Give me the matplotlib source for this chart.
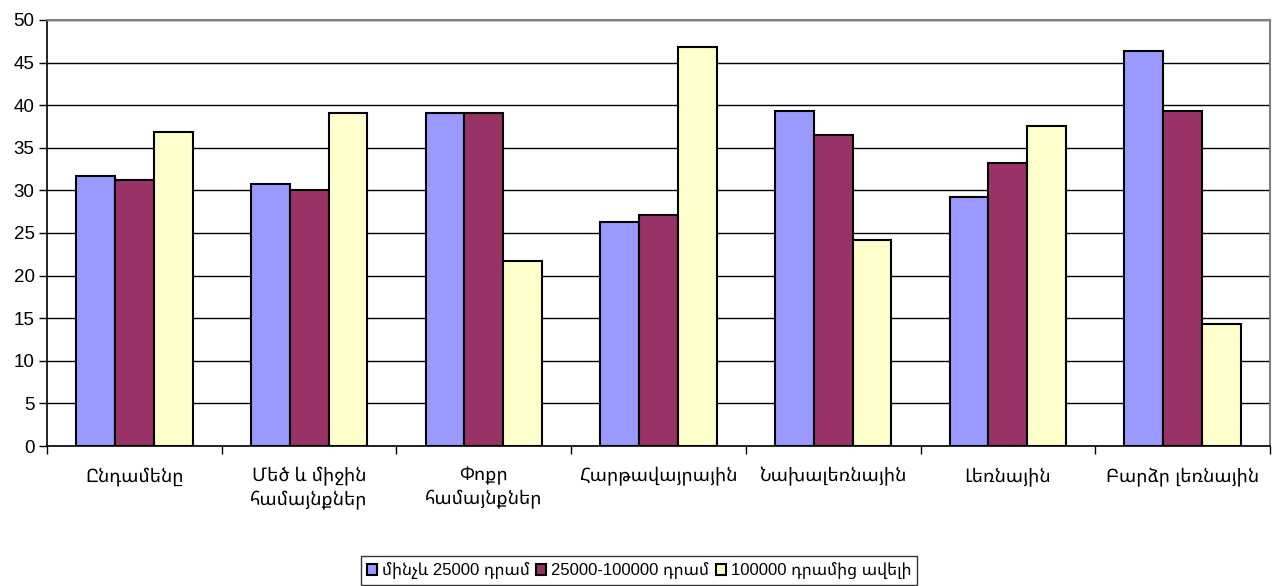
import matplotlib
matplotlib.use("Agg")
import matplotlib.pyplot as plt
import numpy as np

categories = ["Ընդամենը", "Մեծ և միջին\nհամայնքներ", "Փոքր\nհամայնքներ",
              "Հարթավայրային", "Նախալեռնային", "Լեռնային", "Բարձր լեռնային"]
series_names = ["մինչև 25000 դրամ", "25000-100000 դրամ", "100000 դրամից ավելի"]
s1 = [31.7, 30.8, 39.1, 26.3, 39.35, 29.2, 46.4]
s2 = [31.2, 30.1, 39.1, 27.1, 36.5, 33.2, 39.35]
s3 = [36.85, 39.1, 21.7, 46.8, 24.2, 37.55, 14.3]
colors = ["#9999FF", "#993366", "#FFFFCC"]

plt.rcParams['font.family'] = ['Liberation Sans', 'Noto Sans Armenian', 'DejaVu Sans']

fig = plt.figure(figsize=(12.78, 5.86), dpi=100)
ax = fig.add_axes([0.0368, 0.2389, 0.9569, 0.727])

x = np.arange(len(categories))
w = 0.667 / 3
for i, (vals, c, name) in enumerate(zip([s1, s2, s3], colors, series_names)):
    ax.bar(x + (i - 1) * w, vals, width=w, color=c, edgecolor="black",
           linewidth=1.5, label=name, zorder=3)

ax.set_xlim(-0.5, len(categories) - 0.5)
ax.set_ylim(0, 50)
ax.set_yticks(np.arange(0, 51, 5))
ax.yaxis.grid(True, color="black", linewidth=1.0, zorder=0)
ax.set_axisbelow(True)

ax.set_xticks(np.arange(-0.5, len(categories)), labels=[""] * (len(categories) + 1))
ax.set_xticks(x, labels=categories, minor=True)
ax.tick_params(axis="x", which="major", length=6, width=1, color="black", direction="out")
ax.tick_params(axis="x", which="minor", length=0, pad=15, labelsize=13.5)
ax.tick_params(axis="y", length=6, width=1, direction="out", labelsize=13.5, pad=3)
for lab in ax.get_xticklabels(minor=True):
    lab.set_horizontalalignment("center")
    lab.set_verticalalignment("top")
    lab.set_linespacing(1.35)

for s in ["top", "right"]:
    ax.spines[s].set_color("#808080")
    ax.spines[s].set_linewidth(1.5)
for s in ["left", "bottom"]:
    ax.spines[s].set_color("black")
    ax.spines[s].set_linewidth(1.2)

leg = fig.legend(loc="center", bbox_to_anchor=(0.5, 0.026), ncol=3, fontsize=12,
                 frameon=True, fancybox=False, edgecolor="black", handlelength=0.6,
                 handleheight=0.6, handletextpad=0.3, columnspacing=0.4,
                 borderpad=0.35, borderaxespad=0)
leg.get_frame().set_linewidth(1.0)

fig.savefig("out.png", dpi=100)
